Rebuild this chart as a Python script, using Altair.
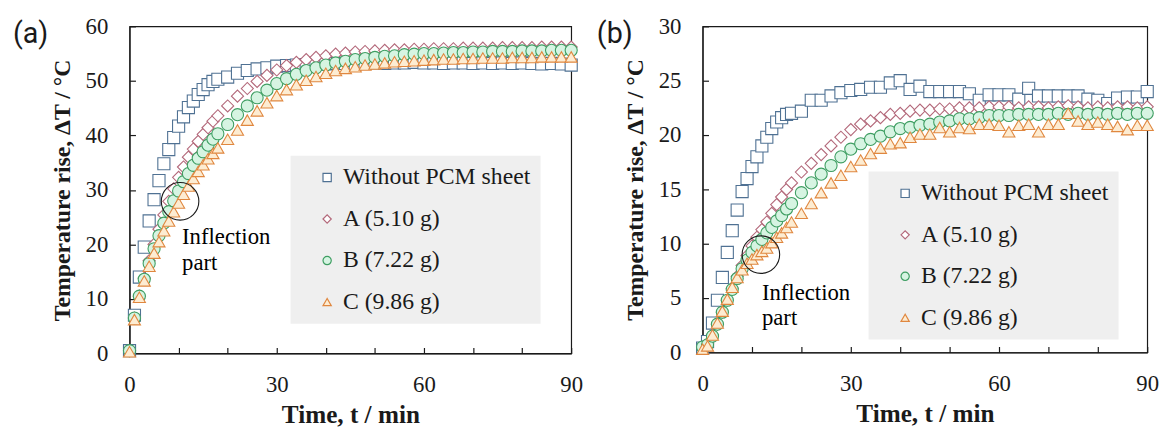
import altair as alt
import pandas as pd

SERIF = "Times New Roman"
SERIF_BOLD = "Liberation Serif"
SANS = "Roboto"

SERIES = ["Without PCM sheet", "A (5.10 g)", "B (7.22 g)", "C (9.86 g)"]
STROKES = ["#4f7193", "#b3687a", "#3e9e62", "#e0873f"]
FILLS = ["#ffffff", "#ffffff", "#d6f4e2", "#fdecd2"]
SHAPES = ["square", "diamond", "circle", "triangle-up"]

TIME = [0, 1, 2, 3, 4, 5, 6, 7, 8, 9, 10, 11, 12, 13, 14, 15, 16, 17, 18,
        20, 22, 24, 26, 28, 30, 32, 34, 36, 38, 40, 42, 44, 46, 48, 50, 52, 54,
        56, 58, 60, 62, 64, 66, 68, 70, 72, 74, 76, 78, 80, 82, 84, 86, 88, 90]

# ---- panel (a) ----
A_WITHOUT = [0.5, 7.0, 14.0, 19.5, 24.3, 28.2, 31.7, 34.8, 37.4, 39.6, 41.7, 43.4, 45.1, 46.3, 47.5, 48.4, 49.3, 49.9, 50.3,
             50.7, 51.4, 51.9, 52.2, 52.4, 52.7, 52.8, 52.9, 53.0, 53.1, 53.1, 53.2, 53.2, 53.1, 53.2, 53.3, 53.2, 53.3,
             53.3, 53.4, 53.3, 53.3, 53.2, 53.3, 53.3, 53.2, 53.3, 53.2, 53.3, 53.2, 53.3, 53.2, 53.1, 53.2, 53.1, 52.9]
A_A = [0.5, 6.5, 10.5, 13.8, 17.0, 20.0, 22.8, 25.4, 27.9, 30.2, 32.3, 34.2, 36.0, 37.5, 38.9, 40.2, 41.4, 42.6, 43.6,
       45.4, 47.2, 48.6, 49.9, 51.0, 52.0, 52.8, 53.4, 53.9, 54.3, 54.6, 54.9, 55.1, 55.3, 55.4, 55.5, 55.6, 55.7,
       55.7, 55.8, 55.8, 55.9, 55.9, 55.9, 56.0, 56.0, 56.0, 56.0, 56.1, 56.1, 56.1, 56.1, 56.2, 56.2, 56.2, 56.2]
A_B = [0.5, 6.5, 10.5, 13.6, 16.5, 19.2, 21.6, 23.9, 26.0, 28.0, 29.8, 31.5, 33.0, 34.5, 35.8, 37.0, 38.2, 39.3, 40.3,
       42.0, 43.8, 45.4, 46.9, 48.3, 49.5, 50.4, 51.2, 51.9, 52.4, 52.9, 53.3, 53.6, 53.9, 54.1, 54.3, 54.5, 54.6,
       54.8, 54.9, 55.0, 55.0, 55.1, 55.2, 55.2, 55.3, 55.3, 55.4, 55.4, 55.4, 55.5, 55.5, 55.5, 55.6, 55.6, 55.6]
A_C = [0.3, 6.2, 10.3, 13.3, 16.0, 18.4, 20.5, 22.5, 24.3, 26.0, 27.6, 29.2, 30.7, 32.1, 33.4, 34.6, 35.7, 36.7, 37.7,
       39.3, 41.0, 42.8, 44.5, 46.0, 47.3, 48.4, 49.3, 50.1, 50.8, 51.4, 51.9, 52.3, 52.6, 52.9, 53.1, 53.3, 53.5,
       53.6, 53.7, 53.8, 53.9, 54.0, 54.0, 54.1, 54.1, 54.2, 54.2, 54.2, 54.3, 54.3, 54.3, 54.4, 54.4, 54.4, 54.4]

# ---- panel (b) ----
B_WITHOUT = [0.4, 1.0, 2.7, 4.8, 6.9, 9.2, 11.2, 13.1, 14.8, 16.0, 17.1, 18.0, 19.0, 19.8, 20.6, 21.2, 21.6, 21.9, 22.0,
             22.2, 23.2, 23.2, 23.6, 23.9, 24.1, 24.2, 24.4, 24.4, 24.8, 25.0, 24.2, 24.5, 24.0, 24.0, 24.0, 24.0, 23.8,
             23.2, 23.7, 23.7, 23.7, 23.3, 24.3, 23.6, 23.6, 23.6, 23.6, 23.6, 23.3, 23.2, 22.9, 23.4, 23.5, 23.5, 24.0]
B_A = [0.5, 0.8, 1.6, 2.6, 3.7, 4.8, 5.9, 7.0, 8.0, 8.9, 9.8, 10.6, 11.3, 12.0, 12.8, 13.6, 14.3, 15.0, 15.6,
       16.6, 17.4, 18.2, 19.0, 19.8, 20.5, 21.0, 21.3, 21.6, 21.9, 22.0, 22.2, 22.3, 22.3, 22.4, 22.4, 22.5, 22.5,
       22.5, 22.6, 22.6, 22.6, 22.5, 22.6, 22.6, 22.5, 22.6, 22.7, 22.6, 22.5, 22.6, 22.5, 22.6, 22.6, 22.5, 22.6]
B_B = [0.5, 0.7, 1.5, 2.6, 3.7, 4.8, 5.8, 6.8, 7.7, 8.5, 9.2, 9.8, 10.4, 11.0, 11.5, 12.1, 12.6, 13.2, 13.7,
       14.7, 15.6, 16.4, 17.2, 18.0, 18.7, 19.2, 19.6, 19.9, 20.3, 20.6, 20.7, 20.9, 21.0, 21.2, 21.3, 21.5, 21.5,
       21.6, 21.8, 21.8, 21.8, 21.9, 21.9, 21.9, 21.9, 22.0, 21.9, 22.0, 21.9, 22.0, 21.9, 22.0, 21.9, 22.0, 22.0]
B_C = [0.3, 0.6, 1.6, 2.7, 3.8, 4.9, 6.0, 6.9, 7.6, 8.2, 8.6, 9.0, 9.3, 9.6, 10.1, 10.6, 11.0, 11.5, 12.0,
       12.8, 13.7, 14.7, 15.6, 16.3, 17.1, 17.7, 18.3, 18.8, 19.2, 19.3, 19.8, 20.1, 20.1, 20.7, 20.3, 20.7, 20.6,
       21.0, 21.0, 20.9, 20.3, 20.9, 21.0, 20.3, 21.0, 21.0, 22.0, 21.3, 21.0, 21.2, 21.0, 20.8, 20.5, 20.9, 20.9]

X_TICKS = [0, 10, 20, 30, 40, 50, 60, 70, 80, 90]
Y_TICKS_A = [0, 10, 20, 30, 40, 50, 60]
Y_TICKS_B = [0, 5, 10, 15, 20, 25, 30]

INFL_TEXT = ["Inflection", "part"]
# annotation anchors (data coordinates)
INFL_A = {"circle_t": [10.3], "circle_v": [27.9], "text_t": [10.7, 10.7], "text_v": [21.4, 16.5]}
INFL_B = {"circle_t": [11.8], "circle_v": [9.0], "text_t": [12.0, 12.0], "text_v": [5.5, 3.2]}

NBSP = "\u00a0"


def long_df(series_values):
    rows = []
    for name, vals in zip(SERIES, series_values):
        for t, v in zip(TIME, vals):
            rows.append({"t": t, "v": v, "series": name})
    return pd.DataFrame(rows)


def panel(df, y_max, y_ticks, w, h, leg_x, leg_y, infl, tag, tag_x):
    common = dict(tickSize={"expr": "-6"}, labelFlush=False, labelOverlap=False, grid=False,
                  labelFont=SERIF, labelFontSize=23, labelColor="#1a1a1a",
                  titleFont=SERIF_BOLD, titleFontWeight="bold", titleColor="#1a1a1a",
                  domainColor="#1a1a1a", tickColor="#1a1a1a", domainWidth=1.2, tickWidth=1.2)
    x_axis = alt.Axis(values=X_TICKS, labelExpr="datum.value % 30 === 0 ? datum.label : ''",
                      title="Time, t / min", titleFontSize=25.5, labelPadding=27, titlePadding=6, **common)
    y_axis = alt.Axis(values=y_ticks, title="Temperature rise, ΔT / °C", titleFontSize=24,
                      labelPadding=28, titlePadding=11, **common)
    legend = alt.Legend(orient="none", legendX=leg_x, legendY=leg_y, title=None,
                        fillColor="#efefef", padding=10, symbolOffset=15, labelOffset=4,
                        labelFont=SERIF, labelFontSize=24, labelColor="#1a1a1a",
                        labelLimit=400, symbolSize=70, symbolStrokeWidth=1.2, rowPadding=18,
                        labelExpr="datum.label + '" + NBSP * 3 + "'")
    x = alt.X("t:Q", scale=alt.Scale(domain=[0, 90], nice=False, zero=False), axis=x_axis)
    y = alt.Y("v:Q", scale=alt.Scale(domain=[0, y_max], nice=False), axis=y_axis)
    pts = alt.Chart(df).mark_point(filled=False, size=150, strokeWidth=1.1, opacity=1).encode(
        x=x, y=y,
        color=alt.Color("series:N", scale=alt.Scale(domain=SERIES, range=STROKES), legend=legend),
        shape=alt.Shape("series:N", scale=alt.Scale(domain=SERIES, range=SHAPES), legend=legend),
        fill=alt.Fill("series:N", scale=alt.Scale(domain=SERIES, range=FILLS), legend=None),
    )
    cdf = pd.DataFrame({"t": infl["circle_t"], "v": infl["circle_v"]})
    circ = alt.Chart(cdf).mark_point(shape="circle", size=1444, filled=False, color="#1a1a1a",
                                     strokeWidth=1.1, opacity=1).encode(x="t:Q", y="v:Q")
    tdf = pd.DataFrame({"t": infl["text_t"], "v": infl["text_v"], "txt": INFL_TEXT})
    txt = alt.Chart(tdf).mark_text(font=SERIF, fontSize=23, align="left",
                                   baseline="middle").encode(x="t:Q", y="v:Q", text="txt:N")
    tg = alt.Chart(pd.DataFrame({"tag": [tag]})).mark_text(
        font=SANS, fontSize=29, align="left", baseline="middle", color="#1a1a1a"
    ).encode(text="tag:N", x=alt.value(tag_x), y=alt.value(8))
    return alt.layer(pts, circ, txt, tg).properties(width=w, height=h)


pa = panel(long_df([A_WITHOUT, A_A, A_B, A_C]), 60, Y_TICKS_A, 447, 331, 163, 131, INFL_A, "(a)", -118)
pb = panel(long_df([B_WITHOUT, B_A, B_B, B_C]), 30, Y_TICKS_B, 450, 330, 168, 147, INFL_B, "(b)", -107)

chart = alt.hconcat(pa, pb, spacing=12).resolve_scale(
    x="independent", y="independent", color="independent", shape="independent", fill="independent"
).resolve_legend(color="independent", shape="independent").properties(
    padding={"left": 4, "top": 4, "right": 5, "bottom": 5}
).configure_view(stroke="#1a1a1a", strokeWidth=1.2)

chart.save("out.html", embed_options={"renderer": "svg", "actions": False})
